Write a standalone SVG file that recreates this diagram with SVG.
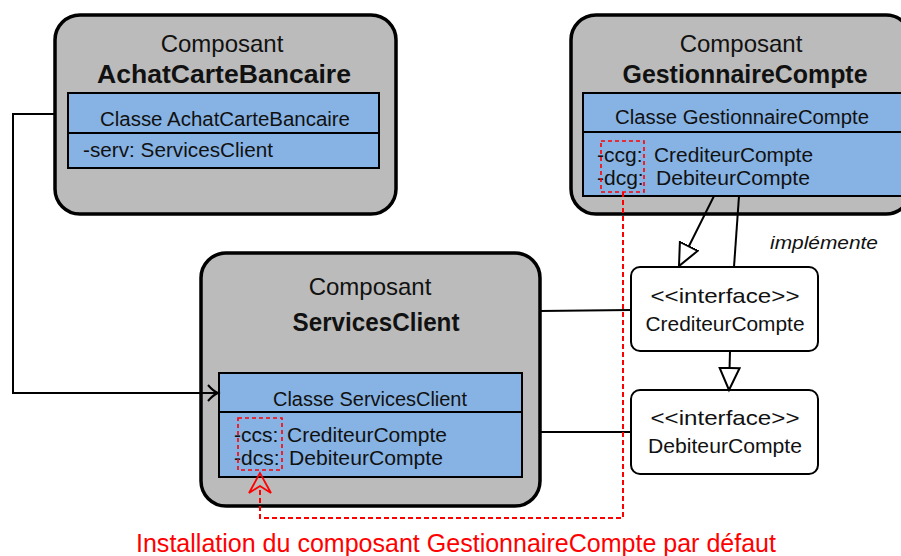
<svg xmlns="http://www.w3.org/2000/svg" width="901" height="556" viewBox="0 0 901 556">
<style>
text{font-family:"Liberation Sans",Arial,sans-serif;fill:#111}
.comp{fill:#bbbbbb;stroke:#000;stroke-width:3.5}
.cls{fill:#86b3e4;stroke:#000;stroke-width:2}
.iface{fill:#fff;stroke:#000;stroke-width:2}
.t24{font-size:24px;text-anchor:middle}
.b24{font-size:25px;font-weight:bold;text-anchor:middle}
.t20{font-size:20px;text-anchor:middle}
.t21{font-size:21px}
.tc21{font-size:21px;text-anchor:middle}
.ln{stroke:#000;stroke-width:2;fill:none}
.red{stroke:#ff0000;stroke-width:2;fill:none;stroke-dasharray:5 3}
.redbox{stroke:#ff0000;stroke-width:1.6;fill:none;stroke-dasharray:4 3}
</style>
<defs>
<marker id="tri" markerUnits="userSpaceOnUse" markerWidth="26" markerHeight="24" refX="23" refY="11" orient="auto">
<path d="M1,1 L23,11 L1,21 Z" fill="#fff" stroke="#000" stroke-width="2"/>
</marker>
<marker id="open" markerUnits="userSpaceOnUse" markerWidth="14" markerHeight="20" refX="11" refY="10" orient="auto">
<path d="M1,2 Q6,8 11,10 Q6,12 1,18" fill="none" stroke="#000" stroke-width="2"/>
</marker>
</defs>

<g id="achat">
<rect class="comp" x="55" y="15" width="341" height="199" rx="25"/>
<text class="t24" x="222" y="52">Composant</text>
<text class="b24" x="224" y="83" textLength="254" lengthAdjust="spacingAndGlyphs">AchatCarteBancaire</text>
<rect class="cls" x="68" y="93" width="311" height="75"/>
<line class="ln" x1="68" y1="133" x2="379" y2="133"/>
<text class="t20" x="225" y="126" textLength="250" lengthAdjust="spacingAndGlyphs">Classe AchatCarteBancaire</text>
<text class="t21" x="83" y="157" textLength="190" lengthAdjust="spacingAndGlyphs">-serv: ServicesClient</text>
</g>

<g id="gestionnaire">
<rect class="comp" x="571" y="15" width="340" height="199" rx="25"/>
<text class="t24" x="741" y="52">Composant</text>
<text class="b24" x="745" y="83" textLength="245" lengthAdjust="spacingAndGlyphs">GestionnaireCompte</text>
<rect class="cls" x="583" y="93" width="322" height="103"/>
<line class="ln" x1="583" y1="132" x2="905" y2="132"/>
<text class="t20" x="742" y="124" textLength="254" lengthAdjust="spacingAndGlyphs">Classe GestionnaireCompte</text>
<text class="t21" x="597" y="162">-ccg:</text>
<text class="t21" x="654" y="162" textLength="159" lengthAdjust="spacingAndGlyphs">CrediteurCompte</text>
<text class="t21" x="597" y="185">-dcg:</text>
<text class="t21" x="656" y="185" textLength="154" lengthAdjust="spacingAndGlyphs">DebiteurCompte</text>
<rect class="redbox" x="601" y="141" width="43" height="51"/>
</g>

<g id="servicesclient">
<rect class="comp" x="201" y="253" width="339" height="253" rx="25"/>
<text class="t24" x="370" y="295">Composant</text>
<text class="b24" x="376" y="331" textLength="167" lengthAdjust="spacingAndGlyphs">ServicesClient</text>
<rect class="cls" x="219" y="373" width="303" height="104"/>
<line class="ln" x1="219" y1="412" x2="522" y2="412"/>
<text class="t20" x="370" y="406" textLength="194" lengthAdjust="spacingAndGlyphs">Classe ServicesClient</text>
<text class="t21" x="234" y="442">-ccs:</text>
<text class="t21" x="287" y="442" textLength="160" lengthAdjust="spacingAndGlyphs">CrediteurCompte</text>
<text class="t21" x="234" y="465">-dcs:</text>
<text class="t21" x="289" y="465" textLength="154" lengthAdjust="spacingAndGlyphs">DebiteurCompte</text>
<rect class="redbox" x="238" y="418" width="44" height="52"/>
</g>

<g id="crediteur">
<rect class="iface" x="631" y="267" width="187" height="84" rx="9"/>
<text class="tc21" x="725" y="303" textLength="149" lengthAdjust="spacingAndGlyphs">&lt;&lt;interface&gt;&gt;</text>
<text class="tc21" x="725" y="331" textLength="159" lengthAdjust="spacingAndGlyphs">CrediteurCompte</text>
</g>

<g id="debiteur">
<rect class="iface" x="631" y="390" width="187" height="84" rx="9"/>
<text class="tc21" x="725" y="425" textLength="149" lengthAdjust="spacingAndGlyphs">&lt;&lt;interface&gt;&gt;</text>
<text class="tc21" x="725" y="453" textLength="154" lengthAdjust="spacingAndGlyphs">DebiteurCompte</text>
</g>

<g id="connectors">
<polyline class="ln" points="55,114 13,114 13,393 218,393" marker-end="url(#open)"/>
<line class="ln" x1="714" y1="196" x2="679" y2="266" marker-end="url(#tri)"/>
<line class="ln" x1="739" y1="196" x2="734" y2="267"/>
<line class="ln" x1="730" y1="351" x2="729" y2="390" marker-end="url(#tri)"/>
<line class="ln" x1="540" y1="311" x2="631" y2="310"/>
<line class="ln" x1="540" y1="432" x2="631" y2="432"/>
<text x="824" y="249" style="font-size:19px;font-style:italic;text-anchor:middle" textLength="108" lengthAdjust="spacingAndGlyphs">implémente</text>
</g>

<g id="installation">
<polyline class="red" points="623,192 623,518 260,518 260,487"/>
<path d="M260,473 L249,493 L260,486 L271,493 Z" fill="none" stroke="#ff0000" stroke-width="1.8" stroke-linejoin="miter"/>
<text x="456" y="552" style="font-size:25px;fill:#ff0000;text-anchor:middle" textLength="640" lengthAdjust="spacingAndGlyphs">Installation du composant GestionnaireCompte par défaut</text>
</g>
</svg>
